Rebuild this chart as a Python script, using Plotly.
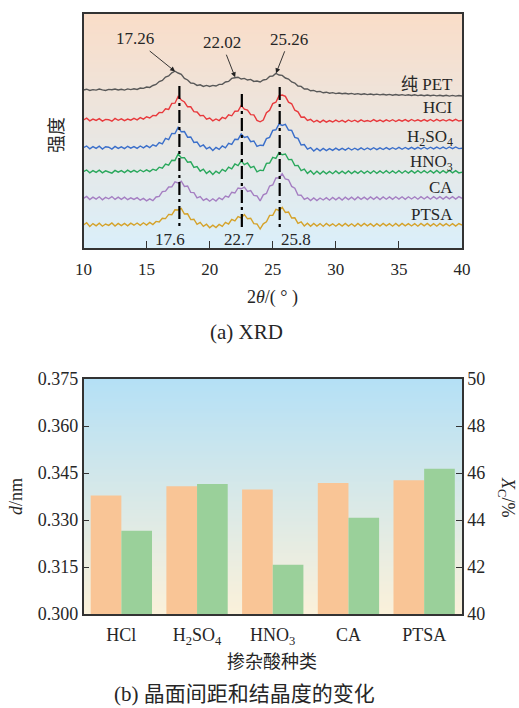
import numpy as np
import plotly.graph_objects as go

# ---------------- (a) XRD data (intensity in arbitrary stacked units) ----------------
theta = np.linspace(10, 40, 121)  # 0.25 deg sampling

pet = [158.0, 158.8, 157.6, 158.4, 157.9, 158.9, 158.1, 157.5, 158.6, 158.2, 159.0, 158.0,
       158.7, 157.9, 159.1, 158.4, 159.2, 158.6, 160.0, 159.6, 161.0, 160.6, 162.5, 163.6,
       166.4, 167.6, 171.0, 172.0, 175.2, 176.8, 175.0, 173.6, 169.6, 168.0, 165.0, 164.6,
       162.6, 163.2, 161.6, 162.6, 161.5, 162.6, 162.0, 163.6, 163.6, 166.0, 166.6, 169.6,
       170.2, 170.8, 169.0, 169.6, 168.0, 168.6, 166.6, 167.0, 166.0, 168.0, 168.6, 171.6,
       172.0, 174.6, 173.0, 172.6, 170.0, 169.0, 166.0, 165.0, 162.0, 161.6, 159.0, 159.0,
       157.2, 157.6, 156.2, 156.6, 155.2, 155.8, 154.8, 155.4, 154.4, 155.0, 154.2, 154.8,
       154.0, 154.6, 153.7, 154.4, 153.5, 154.2, 153.4, 154.0, 153.2, 153.9, 153.1, 153.7,
       153.0, 153.6, 152.8, 153.5, 152.7, 153.4, 152.6, 153.2, 152.5, 153.2, 152.4, 153.0,
       152.3, 153.0, 152.2, 152.9, 152.1, 152.8, 152.0, 152.7, 151.9, 152.6, 151.9, 152.5,
       152.0]

hcl = [128.0, 129.8, 127.2, 128.9, 127.6, 129.4, 126.9, 128.6, 128.3, 126.8, 129.6, 127.7,
       129.2, 127.4, 128.9, 127.8, 129.6, 128.1, 130.4, 128.9, 131.2, 130.0, 132.6, 132.2,
       135.5, 135.4, 139.2, 138.6, 144.6, 144.8, 151.6, 148.0, 146.0, 141.2, 141.2, 136.4,
       136.0, 132.2, 132.6, 128.9, 130.0, 127.2, 129.0, 127.4, 130.6, 129.4, 133.2, 132.2,
       136.8, 137.0, 142.6, 138.8, 138.0, 133.4, 133.2, 127.6, 126.2, 128.0, 135.2, 137.8,
       144.4, 145.8, 152.4, 153.0, 151.6, 145.8, 144.2, 137.8, 136.2, 130.8, 131.0, 127.6,
       128.6, 126.0, 127.6, 125.6, 127.8, 125.8, 127.4, 126.0, 127.9, 126.2, 127.6, 125.9,
       128.0, 126.4, 127.8, 126.1, 128.2, 126.5, 127.4, 126.4, 128.4, 126.6, 128.0, 126.3,
       128.1, 126.7, 128.3, 126.5, 128.2, 126.8, 128.4, 126.6, 128.5, 126.9, 128.2, 126.8,
       128.4, 126.9, 128.5, 126.7, 128.6, 127.0, 128.3, 126.9, 128.5, 127.1, 128.6, 127.0,
       127.6]

h2so4 = [100.3, 102.0, 99.2, 101.4, 99.6, 101.8, 99.0, 101.2, 100.8, 98.9, 101.6, 99.6,
         101.2, 99.4, 101.7, 99.8, 101.4, 99.6, 102.0, 100.2, 102.4, 100.4, 103.2, 101.8,
         105.4, 104.2, 109.6, 108.4, 114.6, 114.4, 120.6, 116.2, 116.4, 110.8, 111.0, 105.6,
         106.0, 101.4, 103.0, 99.2, 100.8, 97.6, 100.6, 98.6, 102.0, 100.2, 104.6, 103.6,
         108.8, 108.6, 114.0, 110.6, 111.4, 106.4, 107.0, 101.6, 102.8, 102.6, 109.4, 110.6,
         117.6, 118.2, 124.0, 122.6, 123.6, 118.0, 117.6, 110.6, 109.6, 103.0, 103.4, 98.8,
         100.4, 97.0, 99.6, 97.2, 99.6, 97.4, 99.4, 97.6, 99.8, 97.8, 99.6, 97.9,
         100.0, 98.0, 99.8, 98.1, 100.1, 98.2, 100.0, 98.3, 100.3, 98.4, 100.2, 98.5,
         100.4, 98.6, 100.3, 98.7, 100.6, 98.7, 100.5, 98.8, 100.7, 98.9, 100.6, 99.0,
         100.8, 99.0, 100.8, 99.1, 100.9, 99.2, 100.9, 99.2, 101.0, 99.3, 101.0, 99.4,
         99.8]

hno3 = [76.3, 78.0, 75.2, 77.4, 75.6, 77.8, 75.1, 77.2, 76.0, 74.9, 77.6, 75.8,
        77.4, 75.4, 77.8, 75.9, 77.6, 75.8, 78.0, 76.2, 78.2, 76.4, 78.8, 77.6,
        80.8, 79.8, 84.0, 82.8, 87.8, 87.6, 94.0, 90.2, 90.4, 85.8, 86.2, 80.6,
        81.4, 76.8, 78.8, 74.6, 77.0, 73.6, 76.8, 74.6, 78.6, 76.6, 80.8, 79.2,
        84.0, 82.4, 87.2, 83.4, 85.0, 80.4, 81.6, 76.2, 77.8, 77.4, 84.6, 85.0,
        90.6, 89.6, 95.4, 93.2, 94.0, 88.4, 88.6, 82.4, 82.6, 77.4, 78.8, 74.6,
        77.2, 73.8, 76.8, 74.0, 76.8, 74.2, 76.6, 74.3, 77.0, 74.4, 76.8, 74.5,
        77.1, 74.5, 76.9, 74.6, 77.2, 74.6, 77.0, 74.7, 77.2, 74.7, 77.1, 74.8,
        77.3, 74.8, 77.1, 74.8, 77.3, 74.8, 77.2, 74.9, 77.4, 74.9, 77.3, 75.0,
        77.4, 75.0, 77.3, 75.0, 77.5, 75.0, 77.4, 75.1, 77.5, 75.1, 77.4, 75.1,
        75.8]

ca = [49.7, 51.6, 48.4, 50.8, 48.9, 51.2, 48.2, 50.6, 49.2, 51.4, 48.6, 50.9,
      48.6, 50.8, 48.3, 50.2, 48.6, 50.4, 47.8, 49.6, 47.2, 49.2, 47.4, 51.0,
      51.6, 56.4, 56.8, 61.0, 61.2, 66.2, 65.0, 66.8, 61.6, 62.0, 55.6, 55.4,
      50.2, 51.4, 47.6, 49.4, 46.8, 49.2, 47.0, 50.2, 48.4, 52.0, 50.8, 55.8,
      55.0, 60.0, 59.2, 60.8, 56.6, 57.4, 52.6, 52.2, 47.2, 53.2, 54.6, 62.0,
      63.0, 70.0, 70.2, 74.2, 69.0, 68.2, 61.6, 59.8, 53.0, 52.8, 48.6, 50.2,
      47.4, 50.0, 47.4, 50.0, 48.0, 50.4, 47.8, 50.6, 48.2, 50.6, 48.0, 50.8,
      48.4, 50.8, 48.2, 51.0, 48.6, 50.9, 48.4, 51.0, 48.7, 51.0, 48.5, 51.1,
      48.8, 51.1, 48.6, 51.2, 48.9, 51.2, 48.7, 51.2, 49.0, 51.2, 48.8, 51.3,
      49.0, 51.3, 48.8, 51.3, 49.1, 51.3, 48.9, 51.4, 49.1, 51.4, 48.9, 51.4,
      49.7]

ptsa = [23.0, 25.2, 21.6, 24.4, 22.2, 24.8, 21.8, 24.0, 22.6, 25.0, 22.0, 24.6,
        22.4, 24.6, 22.2, 24.8, 22.8, 25.0, 22.6, 25.2, 23.0, 25.6, 23.4, 26.6,
        26.0, 29.8, 29.4, 33.6, 33.2, 38.2, 38.0, 39.6, 34.0, 34.2, 28.4, 28.8,
        23.6, 25.6, 21.6, 23.8, 20.2, 22.8, 20.4, 23.6, 21.6, 25.6, 24.0, 28.6,
        27.2, 31.4, 30.0, 33.4, 29.2, 29.8, 24.4, 24.0, 19.0, 24.2, 26.2, 32.6,
        32.6, 38.6, 37.6, 40.6, 35.6, 36.0, 30.0, 30.2, 24.6, 26.2, 22.0, 24.8,
        21.8, 24.6, 22.0, 24.4, 21.6, 24.6, 22.2, 24.2, 21.8, 24.4, 21.9, 24.6,
        22.0, 24.2, 21.7, 24.5, 21.9, 24.6, 22.1, 24.3, 21.7, 24.4, 22.0, 24.6,
        22.1, 24.3, 21.8, 24.5, 21.9, 24.6, 22.2, 24.4, 22.0, 24.3, 21.8, 24.6,
        22.2, 24.5, 21.9, 24.3, 21.8, 24.6, 22.1, 24.4, 22.0, 24.3, 21.9, 24.5,
        23.0]

series_names = ["纯 PET", "HCI", "H<sub>2</sub>SO<sub>4</sub>", "HNO<sub>3</sub>", "CA", "PTSA"]
series_data = [pet, hcl, h2so4, hno3, ca, ptsa]
series_colors = ["#585858", "#e8393c", "#3b6fca", "#2aa85c", "#a57fc2", "#d5a22a"]
label_y = [163, 140.3, 110.3, 84.7, 60.3, 33.7]

# PET peak annotations
pet_peaks = [17.26, 22.02, 25.26]
pet_peak_vals = [176.5, 170.7, 174.7]
pet_peak_text = ["17.26", "22.02", "25.26"]
pet_text_x = [14.07, 20.95, 26.32]
pet_text_y = [209.0, 205.3, 208.7]

# doped peak guide lines
doped_peaks = [17.6, 22.55, 25.55]
doped_top = [162, 154, 161]
doped_bottom = [20, 18, 21]
doped_text = ["17.6", "22.7", "25.8"]
doped_text_x = [16.85, 22.34, 26.86]

# ---------------- (b) bar data ----------------
acids = ["HCl", "H<sub>2</sub>SO<sub>4</sub>", "HNO<sub>3</sub>", "CA", "PTSA"]
d_spacing = [0.3378, 0.3408, 0.3397, 0.3418, 0.3427]
crystallinity = [43.54, 45.53, 42.10, 44.10, 46.18]

SERIF = "Liberation Serif, Times New Roman, serif, Noto Sans CJK SC"
TXT = "#262626"
AX = "#333333"

fig = go.Figure()

for name, ys, col in zip(series_names, series_data, series_colors):
    fig.add_trace(go.Scatter(x=theta, y=ys, mode="lines", line=dict(color=col, width=1.4),
                             name=name, showlegend=False, xaxis="x", yaxis="y"))

for p, t, b in zip(doped_peaks, doped_top, doped_bottom):
    fig.add_trace(go.Scatter(x=[p, p], y=[t, b], mode="lines",
                             line=dict(color="black", width=2.2, dash="13px,4px,3px,4px"),
                             showlegend=False, xaxis="x", yaxis="y"))

fig.add_trace(go.Bar(x=acids, y=d_spacing, width=0.405, offset=-0.405,
                     marker=dict(color="#f9c596", line=dict(width=0)),
                     showlegend=False, xaxis="x2", yaxis="y2"))
fig.add_trace(go.Bar(x=acids, y=crystallinity, width=0.405, offset=0,
                     marker=dict(color="#9ad09a", line=dict(width=0)),
                     showlegend=False, xaxis="x2", yaxis="y3"))

XD = [83.5 / 519, 462 / 519]
YD_TOP = [1 - 248 / 708, 1 - 14 / 708]
YD_BOT = [1 - 614 / 708, 1 - 379 / 708]

# gradient backgrounds
shapes = []
def gradient(refs, c_top, c_bot, n):
    for i in range(n):
        f = (i + 0.5) / n  # 0 bottom -> 1 top
        c = [round(c_bot[k] + (c_top[k] - c_bot[k]) * f) for k in range(3)]
        shapes.append(dict(type="rect", xref=refs[0], yref=refs[1], x0=0, x1=1,
                           y0=i / n, y1=min(1, (i + 1) / n + 0.004), layer="below",
                           line=dict(width=0), fillcolor="rgb(%d,%d,%d)" % tuple(c)))

gradient(("x domain", "y domain"), (250, 221, 200), (218, 239, 250), 117)
gradient(("x2 domain", "y2 domain"), (180, 224, 246), (251, 241, 218), 118)

annotations = []
for name, ly, col in zip(series_names, label_y, series_colors):
    annotations.append(dict(x=39.47, y=ly, xref="x", yref="y", text=name, showarrow=False,
                            xanchor="right", yanchor="middle",
                            font=dict(family=SERIF, size=17, color=TXT)))
for px_, pv, tx, ttx, tty in zip(pet_peaks, pet_peak_vals, pet_peak_text, pet_text_x, pet_text_y):
    annotations.append(dict(x=px_, y=pv, xref="x", yref="y", ax=ttx, ay=tty, axref="x", ayref="y",
                            text=tx, showarrow=True, arrowhead=2, arrowsize=1.1, arrowwidth=0.9,
                            arrowcolor="#222", borderpad=2,
                            font=dict(family=SERIF, size=17, color=TXT)))
for tx, txx in zip(doped_text, doped_text_x):
    annotations.append(dict(x=txx, y=9, xref="x", yref="y", text=tx, showarrow=False,
                            xanchor="center", yanchor="middle",
                            font=dict(family=SERIF, size=17, color=TXT)))

def paper_text(text, xpx, ypx, size, angle=0):
    annotations.append(dict(x=xpx / 519, y=1 - ypx / 708, xref="paper", yref="paper", text=text,
                            showarrow=False, xanchor="center", yanchor="middle", textangle=angle,
                            borderpad=0, font=dict(family=SERIF, size=size, color=TXT)))

paper_text("强度", 57, 135, 18, -90)
paper_text("2<i>θ</i>/( ° )", 272, 297, 18)
paper_text("(a) XRD", 246, 332, 21)
paper_text("掺杂酸种类", 272, 662, 18)
paper_text("(b) 晶面间距和结晶度的变化", 244, 694, 21)
paper_text("<i>d</i>/nm", 16, 497, 18, -90)
paper_text("<i>X</i><sub>C</sub>/%", 507, 497, 18, 90)

axis_common = dict(showline=True, linecolor=AX, linewidth=1.5, showgrid=False, zeroline=False,
                   automargin=False, tickfont=dict(family=SERIF, size=18, color=TXT))

fig.update_layout(
    width=519, height=708, margin=dict(l=0, r=0, t=0, b=0, autoexpand=False),
    paper_bgcolor="white", plot_bgcolor="white", showlegend=False, barmode="overlay",
    font=dict(family=SERIF, color=TXT),
    shapes=shapes, annotations=annotations,
    xaxis=dict(domain=XD, anchor="y", range=[10, 40], tickvals=[10, 15, 20, 25, 30, 35, 40],
               ticks="inside", ticklen=7, tickwidth=1.3, tickcolor=AX, mirror=True,
               ticklabelstandoff=5, **{**axis_common, "tickfont": dict(family=SERIF, size=17, color=TXT)}),
    yaxis=dict(domain=YD_TOP, anchor="x", range=[0, 234], showticklabels=False, ticks="",
               mirror=True, **axis_common),
    xaxis2=dict(domain=XD, anchor="y2", type="category", range=[-0.5, 4.5], ticks="",
                mirror=True, ticklabelstandoff=4, **axis_common),
    yaxis2=dict(domain=YD_BOT, anchor="x2", range=[0.3, 0.375],
                tickvals=[0.300, 0.315, 0.330, 0.345, 0.360, 0.375], tickformat=".3f",
                ticks="inside", ticklen=6, tickwidth=1.3, tickcolor=AX, mirror=False,
                **axis_common),
    yaxis3=dict(overlaying="y2", anchor="x2", side="right", range=[40, 50],
                tickvals=[40, 42, 44, 46, 48, 50], ticks="inside", ticklen=6, tickwidth=1.3,
                tickcolor=AX, **axis_common),
)

fig.write_html("out.html")
